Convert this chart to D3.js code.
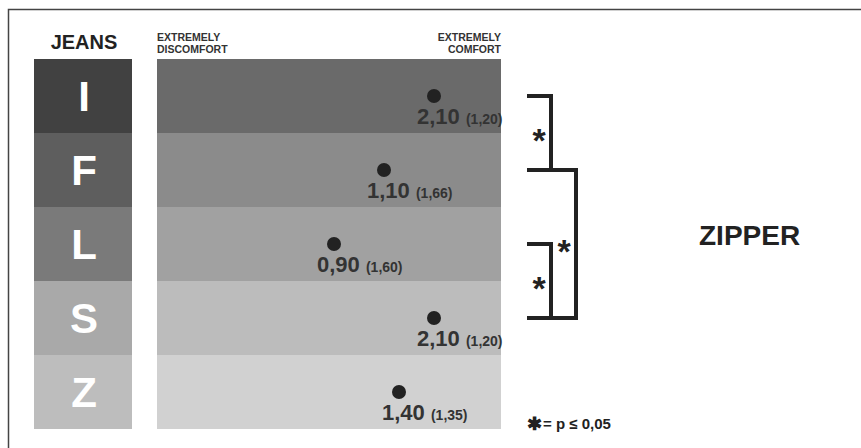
<!DOCTYPE html>
<html>
<head>
<meta charset="utf-8">
<script src="https://cdn.jsdelivr.net/npm/d3@7"></script>
<style>
  body { margin: 0; background: #fff; }
  text { font-family: "Liberation Sans", Arial, sans-serif; font-weight: bold; }
</style>
</head>
<body>
<div class="chart"></div>
<script>

// DATA ------------------------------------
const jeans = ["I", "F", "L", "S", "Z"];
const means = [2.10, 1.10, 0.90, 2.10, 1.40];
const sds = [1.20, 1.66, 1.60, 1.20, 1.35];
// where each dot sits on the discomfort..comfort axis
const dotScore = [2.10, 1.10, 0.10, 2.10, 1.40];
const labelColors = ["#414141", "#5e5e5e", "#7a7a7a", "#a9a9a9", "#bdbdbd"];
const bandColors = ["#6a6a6a", "#8b8b8b", "#a1a1a1", "#bcbcbc", "#d1d1d1"];
// pairs that differ (p <= 0,05), level = which bracket column
const pairs = [["I", "F", 0], ["F", "S", 1], ["L", "S", 0]];

const fmt = v => d3.format(".2f")(v).replace(".", ",");

// CHART INIT ------------------------------
const width = 861;
const height = 448;

const svg = d3.select(".chart").append("svg")
  .attr("width", width)
  .attr("height", height);

// frame (only top and left edges show)
svg.append("path")
  .attr("d", "M8.5,448V9.5H861")
  .attr("fill", "none")
  .attr("stroke", "#444")
  .attr("stroke-width", 1.5);

const yScale = d3.scaleBand()
  .domain(jeans)
  .range([59, 429]);

const band = {x0: 157, x1: 501};
const xScale = d3.scaleLinear()
  .domain([-3, 3])
  .range([band.x0 + 22, band.x1 - 22]);

// left label column
svg.selectAll(".lab")
  .data(jeans)
  .enter()
  .append("rect")
  .attr("class", "lab")
  .attr("x", 34)
  .attr("y", d => yScale(d))
  .attr("width", 98)
  .attr("height", yScale.bandwidth())
  .attr("fill", (d, i) => labelColors[i]);

svg.selectAll(".lab-text")
  .data(jeans)
  .enter()
  .append("text")
  .attr("class", "lab-text")
  .attr("x", 84)
  .attr("y", d => yScale(d) + yScale.bandwidth() / 2 + 15)
  .attr("text-anchor", "middle")
  .attr("font-size", 42)
  .attr("fill", "#fff")
  .text(d => d);

// comfort bands
svg.selectAll(".band")
  .data(jeans)
  .enter()
  .append("rect")
  .attr("class", "band")
  .attr("x", band.x0)
  .attr("y", d => yScale(d))
  .attr("width", band.x1 - band.x0)
  .attr("height", yScale.bandwidth())
  .attr("fill", (d, i) => bandColors[i]);

// headers
svg.append("text")
  .attr("x", 84)
  .attr("y", 49)
  .attr("text-anchor", "middle")
  .attr("font-size", 20)
  .attr("fill", "#222")
  .text("JEANS");

const hdr = [["EXTREMELY", "DISCOMFORT", band.x0, "start"], ["EXTREMELY", "COMFORT", band.x1, "end"]];
hdr.forEach(h => {
  const t = svg.append("text")
    .attr("text-anchor", h[3])
    .attr("font-size", 10.5)
    .attr("fill", "#333");
  t.append("tspan").attr("x", h[2]).attr("y", 41).text(h[0]);
  t.append("tspan").attr("x", h[2]).attr("y", 53).text(h[1]);
});

// dots + labels
const cy = d => yScale(d) + yScale.bandwidth() / 2;

svg.selectAll(".dot")
  .data(jeans)
  .enter()
  .append("circle")
  .attr("class", "dot")
  .attr("cx", (d, i) => xScale(dotScore[i]))
  .attr("cy", d => cy(d))
  .attr("r", 7)
  .attr("fill", "#222");

const vals = svg.selectAll(".val")
  .data(jeans)
  .enter()
  .append("text")
  .attr("class", "val")
  .attr("x", (d, i) => xScale(dotScore[i]) - 17)
  .attr("y", d => yScale(d) + 65)
  .attr("fill", "#333");

vals.append("tspan")
  .attr("font-size", 22)
  .text((d, i) => fmt(means[i]) + " ");

vals.append("tspan")
  .attr("font-size", 14)
  .text((d, i) => "(" + fmt(sds[i]) + ")");

// significance brackets
const armX = 527;
const levelX = [551, 576];

pairs.forEach(p => {
  const y1 = cy(p[0]);
  const y2 = cy(p[1]);
  const xv = levelX[p[2]];
  svg.append("path")
    .attr("d", `M${armX},${y1}H${xv}V${y2}H${armX}`)
    .attr("fill", "none")
    .attr("stroke", "#222")
    .attr("stroke-width", 4);
  svg.append("text")
    .attr("x", xv - 12)
    .attr("y", (y1 + y2) / 2 + 19)
    .attr("text-anchor", "middle")
    .attr("font-size", 34)
    .attr("fill", "#222")
    .text("*");
});

svg.append("text")
  .attr("x", 699)
  .attr("y", 245)
  .attr("font-size", 28)
  .attr("fill", "#222")
  .text("ZIPPER");

// legend
svg.append("text")
  .attr("x", 527)
  .attr("y", 430)
  .attr("font-family", "DejaVu Sans")
  .attr("font-size", 18)
  .attr("fill", "#222")
  .text("\u2731");

svg.append("text")
  .attr("x", 543)
  .attr("y", 429)
  .attr("font-size", 15)
  .attr("fill", "#222")
  .text("= p \u2264 0,05");

</script>
</body>
</html>
